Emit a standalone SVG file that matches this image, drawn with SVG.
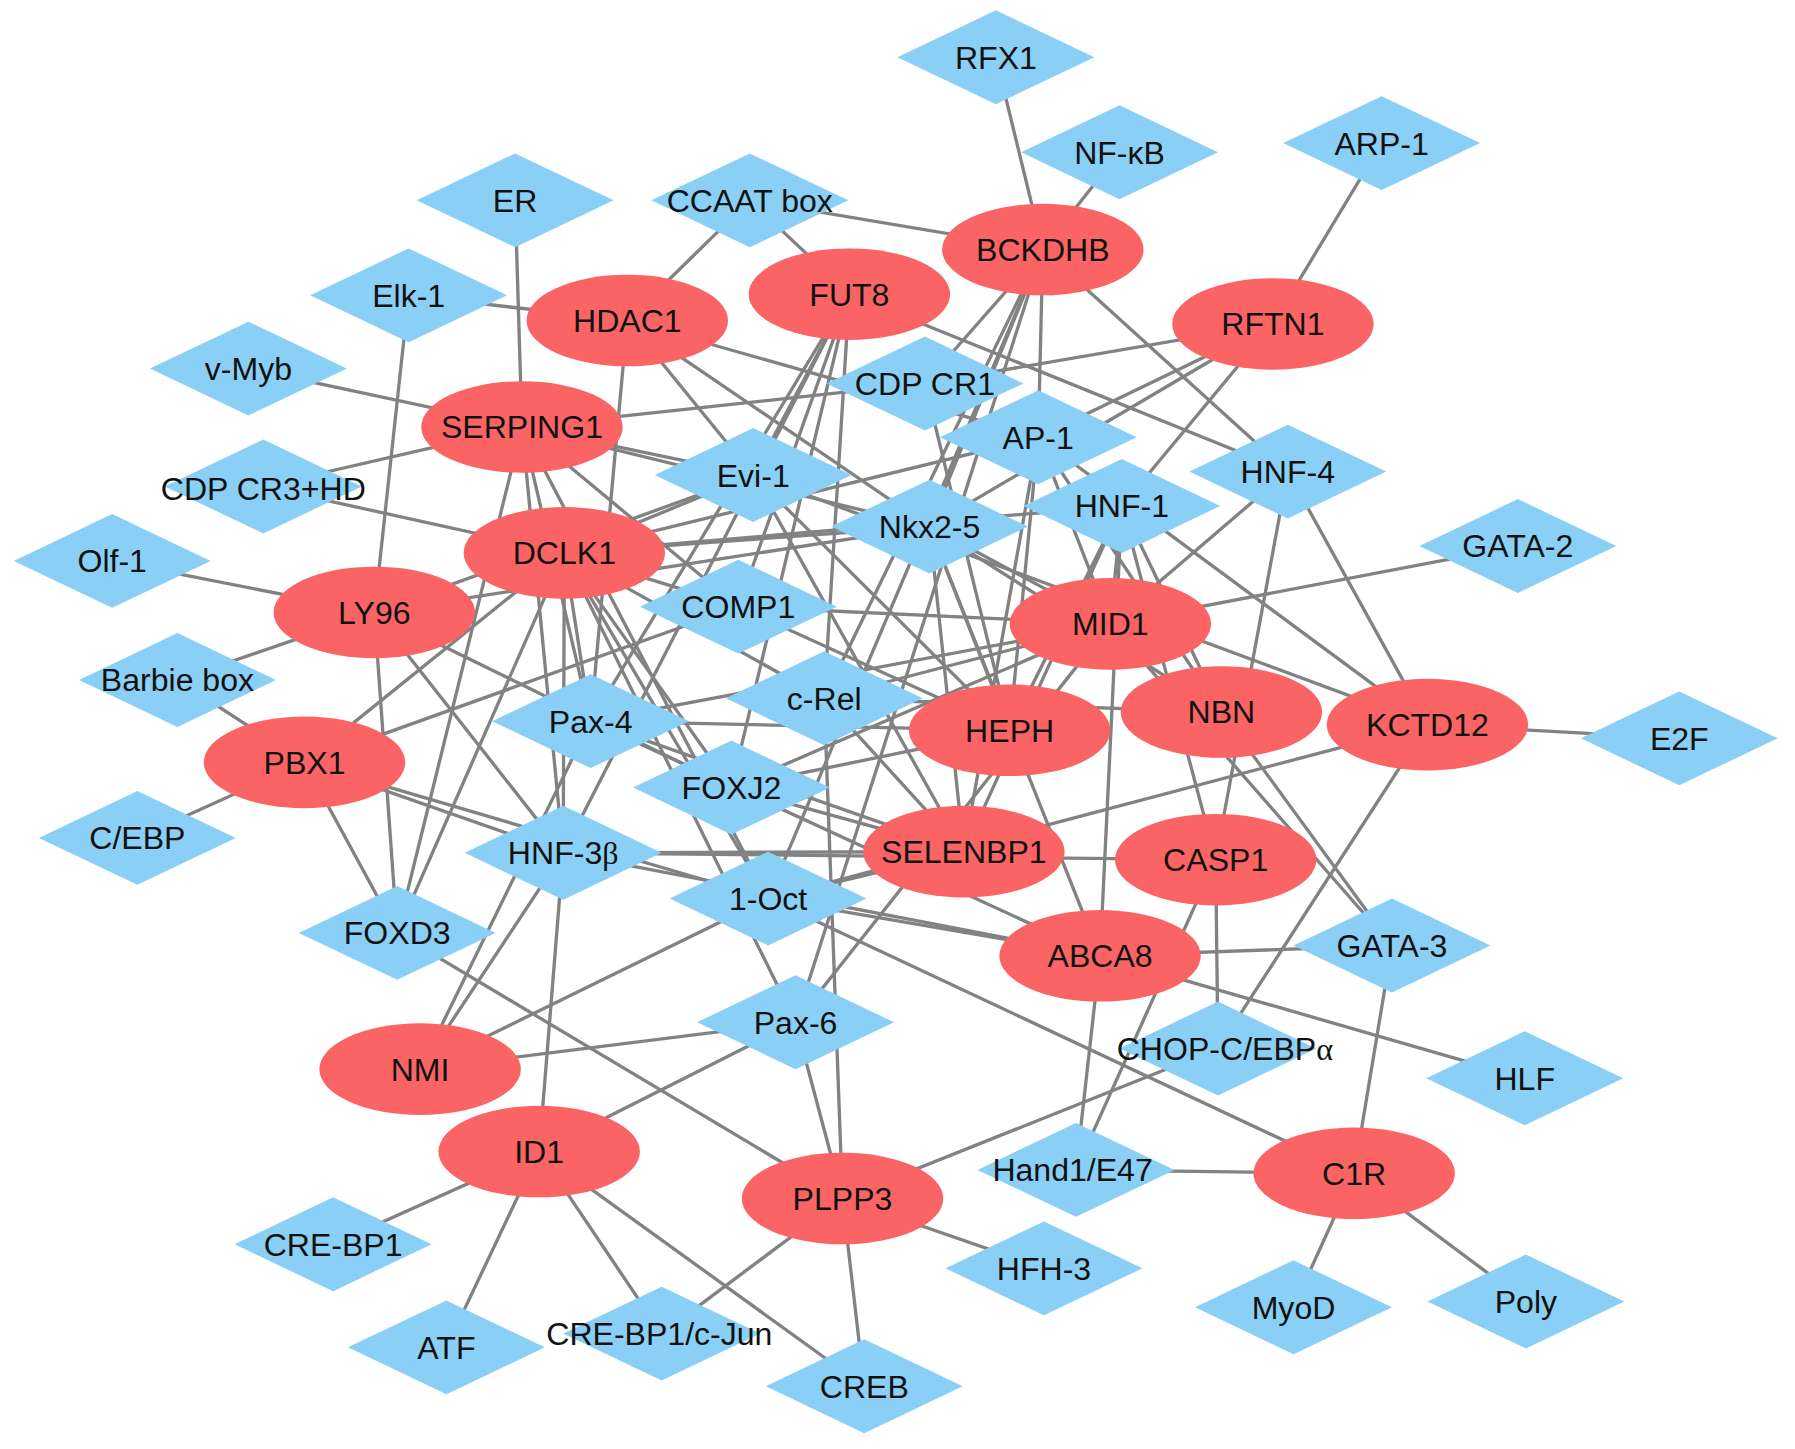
<svg xmlns="http://www.w3.org/2000/svg" xmlns:xlink="http://www.w3.org/1999/xlink" width="1795" height="1449" viewBox="0 0 1795 1449">
<style>
.edges line{stroke:#828282;stroke-width:2.9;stroke-linecap:round}
.gene ellipse{fill:#FA6464}
.tf use{fill:#8ACFF5}
text{font-family:"Liberation Sans",Arial,sans-serif;font-size:28px;text-anchor:middle;fill:#111}
.gr{font-family:"Liberation Serif","Times New Roman",serif}
</style>
<defs>
<polygon id="dm" points="0,-41 86,0 0,41 -86,0" fill="#8ACFF5"/>
</defs>
<rect width="1795" height="1449" fill="#ffffff"/>
<g transform="scale(1.1447)">
<g id="connectors" class="edges">
<line x1="911" y1="218" x2="870" y2="50"/>
<line x1="911" y1="218" x2="978" y2="133"/>
<line x1="911" y1="218" x2="655" y2="175"/>
<line x1="911" y1="218" x2="1125" y2="412"/>
<line x1="911" y1="218" x2="808" y2="335"/>
<line x1="911" y1="218" x2="907" y2="382"/>
<line x1="911" y1="218" x2="812" y2="460"/>
<line x1="911" y1="218" x2="720" y2="610"/>
<line x1="911" y1="218" x2="671" y2="785"/>
<line x1="911" y1="218" x2="695" y2="893"/>
<line x1="742" y1="257" x2="655" y2="175"/>
<line x1="742" y1="257" x2="658" y2="415"/>
<line x1="742" y1="257" x2="516" y2="630"/>
<line x1="742" y1="257" x2="492" y2="745"/>
<line x1="742" y1="257" x2="639" y2="688"/>
<line x1="742" y1="257" x2="645" y2="530"/>
<line x1="742" y1="257" x2="720" y2="610"/>
<line x1="742" y1="257" x2="1125" y2="412"/>
<line x1="548" y1="280" x2="655" y2="175"/>
<line x1="548" y1="280" x2="357" y2="258"/>
<line x1="548" y1="280" x2="907" y2="382"/>
<line x1="548" y1="280" x2="658" y2="415"/>
<line x1="548" y1="280" x2="812" y2="460"/>
<line x1="548" y1="280" x2="516" y2="630"/>
<line x1="1112" y1="283" x2="1207" y2="125"/>
<line x1="1112" y1="283" x2="808" y2="335"/>
<line x1="1112" y1="283" x2="907" y2="382"/>
<line x1="1112" y1="283" x2="812" y2="460"/>
<line x1="1112" y1="283" x2="980" y2="442"/>
<line x1="456" y1="373" x2="450" y2="175"/>
<line x1="456" y1="373" x2="217" y2="322"/>
<line x1="456" y1="373" x2="230" y2="425"/>
<line x1="456" y1="373" x2="808" y2="335"/>
<line x1="456" y1="373" x2="658" y2="415"/>
<line x1="456" y1="373" x2="812" y2="460"/>
<line x1="456" y1="373" x2="347" y2="815"/>
<line x1="456" y1="373" x2="492" y2="745"/>
<line x1="456" y1="373" x2="516" y2="630"/>
<line x1="456" y1="373" x2="671" y2="785"/>
<line x1="456" y1="373" x2="645" y2="530"/>
<line x1="493" y1="483" x2="230" y2="425"/>
<line x1="493" y1="483" x2="658" y2="415"/>
<line x1="493" y1="483" x2="812" y2="460"/>
<line x1="493" y1="483" x2="907" y2="382"/>
<line x1="493" y1="483" x2="980" y2="442"/>
<line x1="493" y1="483" x2="645" y2="530"/>
<line x1="493" y1="483" x2="720" y2="610"/>
<line x1="493" y1="483" x2="639" y2="688"/>
<line x1="493" y1="483" x2="671" y2="785"/>
<line x1="493" y1="483" x2="516" y2="630"/>
<line x1="493" y1="483" x2="492" y2="745"/>
<line x1="493" y1="483" x2="347" y2="815"/>
<line x1="493" y1="483" x2="695" y2="893"/>
<line x1="493" y1="483" x2="266" y2="666"/>
<line x1="327" y1="535" x2="357" y2="258"/>
<line x1="327" y1="535" x2="98" y2="490"/>
<line x1="327" y1="535" x2="155" y2="594"/>
<line x1="327" y1="535" x2="812" y2="460"/>
<line x1="327" y1="535" x2="658" y2="415"/>
<line x1="327" y1="535" x2="347" y2="815"/>
<line x1="327" y1="535" x2="492" y2="745"/>
<line x1="327" y1="535" x2="639" y2="688"/>
<line x1="266" y1="666" x2="155" y2="594"/>
<line x1="266" y1="666" x2="120" y2="732"/>
<line x1="266" y1="666" x2="645" y2="530"/>
<line x1="266" y1="666" x2="492" y2="745"/>
<line x1="266" y1="666" x2="671" y2="785"/>
<line x1="266" y1="666" x2="347" y2="815"/>
<line x1="367" y1="934" x2="695" y2="893"/>
<line x1="367" y1="934" x2="671" y2="785"/>
<line x1="367" y1="934" x2="492" y2="745"/>
<line x1="367" y1="934" x2="516" y2="630"/>
<line x1="471" y1="1006" x2="291" y2="1087"/>
<line x1="471" y1="1006" x2="390" y2="1177"/>
<line x1="471" y1="1006" x2="578" y2="1165"/>
<line x1="471" y1="1006" x2="755" y2="1211"/>
<line x1="471" y1="1006" x2="492" y2="745"/>
<line x1="471" y1="1006" x2="695" y2="893"/>
<line x1="736" y1="1047" x2="912" y2="1108"/>
<line x1="736" y1="1047" x2="755" y2="1211"/>
<line x1="736" y1="1047" x2="578" y2="1165"/>
<line x1="736" y1="1047" x2="347" y2="815"/>
<line x1="736" y1="1047" x2="1064" y2="916"/>
<line x1="736" y1="1047" x2="695" y2="893"/>
<line x1="736" y1="1047" x2="720" y2="610"/>
<line x1="1183" y1="1025" x2="1216" y2="826"/>
<line x1="1183" y1="1025" x2="940" y2="1022"/>
<line x1="1183" y1="1025" x2="1130" y2="1142"/>
<line x1="1183" y1="1025" x2="1333" y2="1137"/>
<line x1="1183" y1="1025" x2="671" y2="785"/>
<line x1="961" y1="835" x2="1332" y2="942"/>
<line x1="961" y1="835" x2="1216" y2="826"/>
<line x1="961" y1="835" x2="940" y2="1022"/>
<line x1="961" y1="835" x2="980" y2="442"/>
<line x1="961" y1="835" x2="492" y2="745"/>
<line x1="961" y1="835" x2="671" y2="785"/>
<line x1="961" y1="835" x2="812" y2="460"/>
<line x1="961" y1="835" x2="516" y2="630"/>
<line x1="1062" y1="751" x2="940" y2="1022"/>
<line x1="1062" y1="751" x2="1064" y2="916"/>
<line x1="1062" y1="751" x2="1125" y2="412"/>
<line x1="1062" y1="751" x2="980" y2="442"/>
<line x1="1062" y1="751" x2="492" y2="745"/>
<line x1="1247" y1="633" x2="1467" y2="645"/>
<line x1="1247" y1="633" x2="1064" y2="916"/>
<line x1="1247" y1="633" x2="1125" y2="412"/>
<line x1="1247" y1="633" x2="658" y2="415"/>
<line x1="1247" y1="633" x2="907" y2="382"/>
<line x1="1247" y1="633" x2="671" y2="785"/>
<line x1="970" y1="545" x2="1326" y2="477"/>
<line x1="970" y1="545" x2="1216" y2="826"/>
<line x1="970" y1="545" x2="1125" y2="412"/>
<line x1="970" y1="545" x2="907" y2="382"/>
<line x1="970" y1="545" x2="980" y2="442"/>
<line x1="970" y1="545" x2="812" y2="460"/>
<line x1="970" y1="545" x2="645" y2="530"/>
<line x1="970" y1="545" x2="720" y2="610"/>
<line x1="970" y1="545" x2="516" y2="630"/>
<line x1="970" y1="545" x2="639" y2="688"/>
<line x1="970" y1="545" x2="695" y2="893"/>
<line x1="1067" y1="622" x2="1216" y2="826"/>
<line x1="1067" y1="622" x2="980" y2="442"/>
<line x1="1067" y1="622" x2="812" y2="460"/>
<line x1="1067" y1="622" x2="907" y2="382"/>
<line x1="1067" y1="622" x2="720" y2="610"/>
<line x1="882" y1="638" x2="812" y2="460"/>
<line x1="882" y1="638" x2="907" y2="382"/>
<line x1="882" y1="638" x2="980" y2="442"/>
<line x1="882" y1="638" x2="658" y2="415"/>
<line x1="882" y1="638" x2="645" y2="530"/>
<line x1="882" y1="638" x2="639" y2="688"/>
<line x1="882" y1="638" x2="516" y2="630"/>
<line x1="882" y1="638" x2="808" y2="335"/>
<line x1="842" y1="744" x2="492" y2="745"/>
<line x1="842" y1="744" x2="639" y2="688"/>
<line x1="842" y1="744" x2="671" y2="785"/>
<line x1="842" y1="744" x2="516" y2="630"/>
<line x1="842" y1="744" x2="720" y2="610"/>
<line x1="842" y1="744" x2="812" y2="460"/>
<line x1="842" y1="744" x2="980" y2="442"/>
<line x1="842" y1="744" x2="907" y2="382"/>
<line x1="842" y1="744" x2="658" y2="415"/>
</g>
<g id="tfs" class="tf">
<g id="RFX1" transform="translate(870,50)"><use href="#dm"/><text y="10">RFX1</text></g>
<g id="NF-kB" transform="translate(978,133)"><use href="#dm"/><text y="10">NF-κB</text></g>
<g id="ARP-1" transform="translate(1207,125)"><use href="#dm"/><text y="10">ARP-1</text></g>
<g id="ER" transform="translate(450,175)"><use href="#dm"/><text y="10">ER</text></g>
<g id="CCAAT_box" transform="translate(655,175)"><use href="#dm"/><text y="10">CCAAT box</text></g>
<g id="Elk-1" transform="translate(357,258)"><use href="#dm"/><text y="10">Elk-1</text></g>
<g id="v-Myb" transform="translate(217,322)"><use href="#dm"/><text y="10">v-Myb</text></g>
<g id="CDP_CR1" transform="translate(808,335)"><use href="#dm"/><text y="10">CDP CR1</text></g>
<g id="AP-1" transform="translate(907,382)"><use href="#dm"/><text y="10">AP-1</text></g>
<g id="CDP_CR3_HD" transform="translate(230,425)"><use href="#dm"/><text y="12">CDP CR3+HD</text></g>
<g id="Evi-1" transform="translate(658,415)"><use href="#dm"/><text y="10">Evi-1</text></g>
<g id="HNF-4" transform="translate(1125,412)"><use href="#dm"/><text y="10">HNF-4</text></g>
<g id="HNF-1" transform="translate(980,442)"><use href="#dm"/><text y="10">HNF-1</text></g>
<g id="Nkx2-5" transform="translate(812,460)"><use href="#dm"/><text y="10">Nkx2-5</text></g>
<g id="Olf-1" transform="translate(98,490)"><use href="#dm"/><text y="10">Olf-1</text></g>
<g id="GATA-2" transform="translate(1326,477)"><use href="#dm"/><text y="10">GATA-2</text></g>
<g id="COMP1" transform="translate(645,530)"><use href="#dm"/><text y="10">COMP1</text></g>
<g id="Barbie_box" transform="translate(155,594)"><use href="#dm"/><text y="10">Barbie box</text></g>
<g id="c-Rel" transform="translate(720,610)"><use href="#dm"/><text y="10">c-Rel</text></g>
<g id="Pax-4" transform="translate(516,630)"><use href="#dm"/><text y="10">Pax-4</text></g>
<g id="E2F" transform="translate(1467,645)"><use href="#dm"/><text y="10">E2F</text></g>
<g id="FOXJ2" transform="translate(639,688)"><use href="#dm"/><text y="10">FOXJ2</text></g>
<g id="C_EBP" transform="translate(120,732)"><use href="#dm"/><text y="10">C/EBP</text></g>
<g id="HNF-3b" transform="translate(492,745)"><use href="#dm"/><text y="10">HNF-3<tspan class="gr">β</tspan></text></g>
<g id="1-Oct" transform="translate(671,785)"><use href="#dm"/><text y="10">1-Oct</text></g>
<g id="FOXD3" transform="translate(347,815)"><use href="#dm"/><text y="10">FOXD3</text></g>
<g id="GATA-3" transform="translate(1216,826)"><use href="#dm"/><text y="10">GATA-3</text></g>
<g id="Pax-6" transform="translate(695,893)"><use href="#dm"/><text y="10">Pax-6</text></g>
<g id="CHOP-C_EBPa" transform="translate(1064,916)"><use href="#dm"/><text x="6" y="10">CHOP-C/EBP<tspan class="gr">α</tspan></text></g>
<g id="HLF" transform="translate(1332,942)"><use href="#dm"/><text y="10">HLF</text></g>
<g id="Hand1_E47" transform="translate(940,1022)"><use href="#dm"/><text x="-3" y="10">Hand1/E47</text></g>
<g id="CRE-BP1" transform="translate(291,1087)"><use href="#dm"/><text y="10">CRE-BP1</text></g>
<g id="HFH-3" transform="translate(912,1108)"><use href="#dm"/><text y="10">HFH-3</text></g>
<g id="MyoD" transform="translate(1130,1142)"><use href="#dm"/><text y="10">MyoD</text></g>
<g id="Poly" transform="translate(1333,1137)"><use href="#dm"/><text y="10">Poly</text></g>
<g id="ATF" transform="translate(390,1177)"><use href="#dm"/><text y="10">ATF</text></g>
<g id="CRE-BP1_c-Jun" transform="translate(578,1165)"><use href="#dm"/><text x="-2" y="10">CRE-BP1/c-Jun</text></g>
<g id="CREB" transform="translate(755,1211)"><use href="#dm"/><text y="10">CREB</text></g>
</g>
<g id="genes" class="gene">
<g id="BCKDHB" transform="translate(911,218)"><ellipse rx="88" ry="40"/><text y="10">BCKDHB</text></g>
<g id="FUT8" transform="translate(742,257)"><ellipse rx="88" ry="40"/><text y="10">FUT8</text></g>
<g id="HDAC1" transform="translate(548,280)"><ellipse rx="88" ry="40"/><text y="10">HDAC1</text></g>
<g id="RFTN1" transform="translate(1112,283)"><ellipse rx="88" ry="40"/><text y="10">RFTN1</text></g>
<g id="SERPING1" transform="translate(456,373)"><ellipse rx="88" ry="40"/><text y="10">SERPING1</text></g>
<g id="DCLK1" transform="translate(493,483)"><ellipse rx="88" ry="40"/><text y="10">DCLK1</text></g>
<g id="LY96" transform="translate(327,535)"><ellipse rx="88" ry="40"/><text y="10">LY96</text></g>
<g id="MID1" transform="translate(970,545)"><ellipse rx="88" ry="40"/><text y="10">MID1</text></g>
<g id="NBN" transform="translate(1067,622)"><ellipse rx="88" ry="40"/><text y="10">NBN</text></g>
<g id="KCTD12" transform="translate(1247,633)"><ellipse rx="88" ry="40"/><text y="10">KCTD12</text></g>
<g id="HEPH" transform="translate(882,638)"><ellipse rx="88" ry="40"/><text y="10">HEPH</text></g>
<g id="PBX1" transform="translate(266,666)"><ellipse rx="88" ry="40"/><text y="10">PBX1</text></g>
<g id="SELENBP1" transform="translate(842,744)"><ellipse rx="88" ry="40"/><text y="10">SELENBP1</text></g>
<g id="CASP1" transform="translate(1062,751)"><ellipse rx="88" ry="40"/><text y="10">CASP1</text></g>
<g id="ABCA8" transform="translate(961,835)"><ellipse rx="88" ry="40"/><text y="10">ABCA8</text></g>
<g id="NMI" transform="translate(367,934)"><ellipse rx="88" ry="40"/><text y="10">NMI</text></g>
<g id="ID1" transform="translate(471,1006)"><ellipse rx="88" ry="40"/><text y="10">ID1</text></g>
<g id="PLPP3" transform="translate(736,1047)"><ellipse rx="88" ry="40"/><text y="10">PLPP3</text></g>
<g id="C1R" transform="translate(1183,1025)"><ellipse rx="88" ry="40"/><text y="10">C1R</text></g>
</g>
</g>
</svg>
